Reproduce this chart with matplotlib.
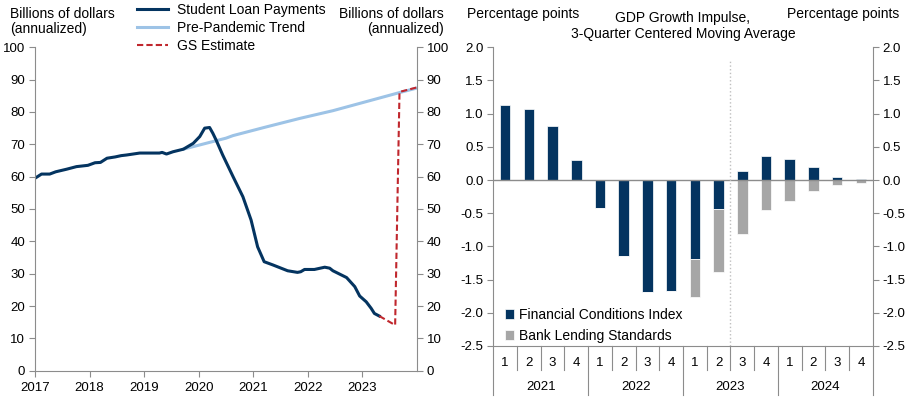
import matplotlib
matplotlib.use("Agg")
import matplotlib.pyplot as plt
import numpy as np
from matplotlib.ticker import FormatStrFormatter, MultipleLocator
from matplotlib.lines import Line2D
import matplotlib.transforms as mtransforms

plt.rcParams['font.family'] = ['Liberation Sans', 'DejaVu Sans']
plt.rcParams['font.size'] = 9.5
plt.rcParams['axes.unicode_minus'] = False

# left panel: student loan payments (billions, annualized)
loan_dates = [2017.0, 2017.12, 2017.27, 2017.38, 2017.58, 2017.76, 2017.97, 2018.1, 2018.2,
              2018.32, 2018.47, 2018.58, 2018.68, 2018.8, 2018.92, 2019.1, 2019.28, 2019.33,
              2019.41, 2019.53, 2019.65, 2019.72, 2019.9, 2020.02, 2020.11, 2020.2, 2020.26,
              2020.32, 2020.44, 2020.63, 2020.81, 2020.96, 2021.08, 2021.2, 2021.36, 2021.51,
              2021.63, 2021.81, 2021.87, 2021.94, 2022.12, 2022.31, 2022.4, 2022.46, 2022.71,
              2022.86, 2022.95, 2023.07, 2023.16, 2023.22, 2023.31]
loan_values = [59.5, 60.8, 60.8, 61.5, 62.3, 63.1, 63.5, 64.3, 64.4,
               65.7, 66.1, 66.5, 66.7, 67.0, 67.3, 67.3, 67.3, 67.5,
               67.0, 67.7, 68.2, 68.5, 70.3, 72.4, 75.0, 75.2, 73.4,
               71.3, 66.7, 60.0, 53.8, 46.6, 38.3, 33.7, 32.7, 31.7,
               30.9, 30.4, 30.6, 31.3, 31.3, 32.0, 31.7, 30.9, 28.8,
               26.0, 23.1, 21.3, 19.3, 17.7, 16.9]
trend_dates = [2019.72, 2020.5, 2020.63, 2021.22, 2021.85, 2022.46, 2023.07, 2023.68, 2024.0]
trend_values = [68.5, 71.9, 72.7, 75.3, 78.0, 80.4, 83.2, 86.0, 87.4]
gs_dates = [2023.31, 2023.6, 2023.68, 2024.0]
gs_values = [16.9, 14.1, 86.2, 87.6]
years = [2017, 2018, 2019, 2020, 2021, 2022, 2023]

# right panel: GDP growth impulse (pp)
quarters = ['1', '2', '3', '4'] * 4
quarter_years = ['2021', '2022', '2023', '2024']
fci = [1.13, 1.07, 0.81, 0.30, -0.42, -1.15, -1.68, -1.67,
       -1.19, -0.44, 0.13, 0.36, 0.31, 0.19, 0.05, 0.02]
bls = [0.0, 0.0, 0.0, 0.0, 0.0, 0.0, 0.0, 0.0,
       -0.57, -0.94, -0.81, -0.45, -0.31, -0.16, -0.075, -0.05]

navy = '#043460'
grey = '#A6A6A6'
spine_col = '#8C8C8C'

fig = plt.figure(figsize=(9.13, 4.07), dpi=100)

# ---------- left chart ----------
ax1 = fig.add_axes([0.0383, 0.0892, 0.4184, 0.7946])
ax1.plot(trend_dates, trend_values, color='#9DC3E6', lw=2.2, label='Pre-Pandemic Trend')
ax1.plot(loan_dates, loan_values, color=navy, lw=2.2, label='Student Loan Payments')
ax1.plot(gs_dates, gs_values, color='#C0272D', lw=1.5, ls=(0, (3, 1.5)), label='GS Estimate')
ax1.set_xlim(2017, 2024)
ax1.set_ylim(0, 100)
ax1.set_xticks(years)
ax1.set_xticklabels([str(y) for y in years])
ax1.yaxis.set_major_locator(MultipleLocator(10))
ax1.yaxis.set_ticks_position('both')
ax1.tick_params(axis='y', labelright=True, direction='out', length=4, pad=3, color=spine_col)
ax1.tick_params(axis='x', direction='out', length=4, pad=4, color=spine_col)
for s in ['left', 'right', 'bottom']:
    ax1.spines[s].set_color(spine_col)
ax1.spines['top'].set_visible(False)

h, l = ax1.get_legend_handles_labels()
order = [1, 0, 2]
ax1.legend([h[i] for i in order], [l[i] for i in order], loc='upper left',
           bbox_to_anchor=(0.150, 0.993), bbox_transform=fig.transFigure,
           frameon=False, handlelength=2.2, handletextpad=0.7, labelspacing=0.29,
           borderpad=0, borderaxespad=0, fontsize=10)

fig.text(0.011, 0.947, 'Billions of dollars\n(annualized)', ha='left', va='center',
         fontsize=10, linespacing=1.1)
fig.text(0.486, 0.947, 'Billions of dollars\n(annualized)', ha='right', va='center',
         fontsize=10, linespacing=1.1, multialignment='right')

# ---------- right chart ----------
ax2 = fig.add_axes([0.5403, 0.1499, 0.4156, 0.7339])
x = np.arange(len(fci))
fci_arr = np.array(fci)
bls_bottom = np.minimum(fci_arr, 0)
ax2.bar(x, fci, width=0.45, color=navy, edgecolor='white', lw=0.5, label='Financial Conditions Index')
ax2.bar(x, bls, width=0.45, bottom=bls_bottom, color=grey, edgecolor='white', lw=0.5,
        label='Bank Lending Standards')
ax2.axhline(0, color=spine_col, lw=1)
ax2.axvline(9.5, ymin=0, ymax=0.96, color='#BFBFBF', ls=':', lw=1)
ax2.set_xlim(-0.5, len(fci) - 0.5)
ax2.set_ylim(-2.5, 2.0)
ax2.yaxis.set_major_locator(MultipleLocator(0.5))
ax2.yaxis.set_major_formatter(FormatStrFormatter('%.1f'))
ax2.yaxis.set_ticks_position('both')
ax2.tick_params(axis='y', labelright=True, direction='out', length=4, pad=3, color=spine_col)
ax2.set_xticks([])
for s in ['left', 'right', 'bottom']:
    ax2.spines[s].set_color(spine_col)
ax2.spines['top'].set_visible(False)

trans = mtransforms.blended_transform_factory(ax2.transData, ax2.transAxes)
for i, q in enumerate(quarters):
    ax2.text(i, -0.056, q, transform=trans, ha='center', va='center')
for j, yr in enumerate(quarter_years):
    ax2.text(4 * j + 1.5, -0.138, yr, transform=trans, ha='center', va='center')
for b in range(len(fci) + 1):
    bx = b - 0.5
    y_end = -0.164 if b % 4 == 0 else -0.082
    ax2.add_line(Line2D([bx, bx], [0, y_end], transform=trans, color=spine_col,
                        lw=0.8, clip_on=False))

ax2.legend(loc='lower left', bbox_to_anchor=(0.03, 0.01), frameon=False,
           handlelength=0.7, handleheight=0.7, handletextpad=0.3, labelspacing=0.5,
           borderpad=0, borderaxespad=0, fontsize=10)

fig.text(0.511, 0.965, 'Percentage points', ha='left', va='center', fontsize=10)
fig.text(0.985, 0.965, 'Percentage points', ha='right', va='center', fontsize=10)
fig.text(0.748, 0.936, 'GDP Growth Impulse,\n3-Quarter Centered Moving Average',
         ha='center', va='center', fontsize=10, linespacing=1.1)

fig.savefig('out.png', dpi=100)
